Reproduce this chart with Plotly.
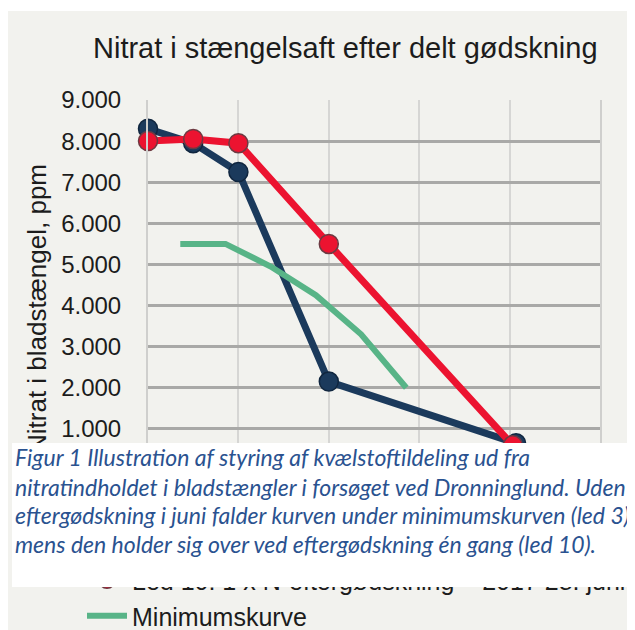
import plotly.graph_objects as go

# ---------------- data ----------------
days_led3 = [0, 7, 14, 28, 57]
nitrat_led3 = [8300, 7950, 7250, 2150, 650]

days_led10 = [0, 7, 14, 28, 56.5]
nitrat_led10 = [8000, 8050, 7950, 5500, 600]

days_min = [5, 12, 19, 26, 33, 40]
nitrat_min = [5500, 5500, 4950, 4250, 3300, 2000]

y_tickvals = [0, 1000, 2000, 3000, 4000, 5000, 6000, 7000, 8000, 9000]
y_ticktext = ["0", "1.000", "2.000", "3.000", "4.000", "5.000", "6.000", "7.000", "8.000", "9.000"]

name_led3 = "Led 3: Ingen eftergødskning i juni"
name_led10 = "Led 10: 1 x N-eftergødskning – 2017 28. juni"
name_min = "Minimumskurve"

title_text = "Nitrat i stængelsaft efter delt gødskning"
ytitle_text = "Nitrat i bladstængel, ppm"
caption_lines = [
    "Figur 1 Illustration af styring af kvælstoftildeling ud fra",
    "nitratindholdet i bladstængler i forsøget ved Dronninglund. Uden",
    "eftergødskning i juni falder kurven under minimumskurven (led 3),",
    "mens den holder sig over ved eftergødskning én gang (led 10).",
]

# ---------------- layout helpers ----------------
# the page body adds an 8 px white margin; figure coordinates = reference - 8
OFF = 8
W, H = 635 - OFF, 630 - OFF
PL, PR, PT, PB = 148 - OFF, 600 - OFF, 100 - OFF, 470 - OFF


def fx(p):  # reference pixel x -> paper fraction
    return (p - OFF - PL) / (PR - PL)


def fy(p):  # reference pixel y -> paper fraction
    return (PB - (p - OFF)) / (PB - PT)


NAVY = "#1b3a5c"
RED = "#ec1330"
GREEN = "#58b487"
BG = "#f2f2ee"
TXT = "#1c1c1c"
FONT = "Liberation Sans, Arial, sans-serif"

fig = go.Figure()
fig.add_trace(go.Scatter(
    x=days_led3, y=nitrat_led3, name=name_led3, mode="lines+markers",
    line=dict(color=NAVY, width=7),
    marker=dict(size=19, color=NAVY, line=dict(color="#10263f", width=1.5)),
    cliponaxis=False,
))
fig.add_trace(go.Scatter(
    x=days_led10, y=nitrat_led10, name=name_led10, mode="lines+markers",
    line=dict(color=RED, width=7),
    marker=dict(size=19, color=RED, line=dict(color="#6e3a42", width=1.5)),
    cliponaxis=False,
))
fig.add_trace(go.Scatter(
    x=days_min, y=nitrat_min, name=name_min, mode="lines",
    line=dict(color=GREEN, width=6),
))

annotations = [
    dict(text=title_text, x=fx(345), y=fy(48), xref="paper", yref="paper",
         xanchor="center", yanchor="middle", showarrow=False,
         font=dict(family=FONT, size=29, color=TXT)),
    dict(text=ytitle_text, x=fx(37), y=fy(309), xref="paper", yref="paper",
         xanchor="center", yanchor="middle", showarrow=False, textangle=-90,
         font=dict(family=FONT, size=26, color=TXT)),
    # white caption box (drawn above the legend)
    dict(text=" ", x=fx(12), y=fy(443), xref="paper", yref="paper",
         xanchor="left", yanchor="top", showarrow=False,
         width=640, height=144, bgcolor="white", borderpad=0, borderwidth=0),
]
caption_centers = [457, 487, 515, 544]
for line, yc in zip(caption_lines, caption_centers):
    annotations.append(dict(
        text="<i>" + line + "</i>", x=fx(13), y=fy(yc), xref="paper", yref="paper",
        xanchor="left", yanchor="middle", showarrow=False,
        font=dict(family="Lato, Noto Sans, sans-serif", size=23, color="#2a5290")))

fig.update_layout(
    width=W, height=H, autosize=False,
    margin=dict(l=PL, r=W - PR, t=PT, b=H - PB, pad=0, autoexpand=False),
    paper_bgcolor=BG, plot_bgcolor=BG,
    showlegend=True,
    legend=dict(x=fx(82), y=fy(522), xanchor="left", yanchor="top",
                bgcolor="rgba(0,0,0,0)", font=dict(family=FONT, size=25, color=TXT),
                itemwidth=40, traceorder="normal"),
    annotations=annotations,
    shapes=[
        dict(type="rect", xref="paper", yref="paper", layer="above",
             x0=fx(-5), x1=fx(640), y0=fy(0), y1=fy(11),
             fillcolor="white", line=dict(width=0)),
        dict(type="rect", xref="paper", yref="paper", layer="above",
             x0=fx(12), x1=fx(640), y0=fy(443), y1=fy(587),
             fillcolor="white", line=dict(width=0)),
    ],
)
fig.update_xaxes(range=[0, 70], dtick=14, tick0=0, showgrid=True,
                 gridcolor="#d6d6d4", gridwidth=2, showticklabels=False,
                 zeroline=False, showline=False, ticks="", automargin=False)
fig.update_yaxes(range=[0, 9000], tickvals=y_tickvals, ticktext=y_ticktext,
                 showgrid=True, gridcolor="#a9a9a7", gridwidth=2.5,
                 zeroline=False, showline=True, linecolor="#cfcfcd", linewidth=2,
                 mirror=True, ticks="", ticklabelstandoff=20, automargin=False,
                 tickfont=dict(family=FONT, size=24, color=TXT))

fig.write_html("out.html")
